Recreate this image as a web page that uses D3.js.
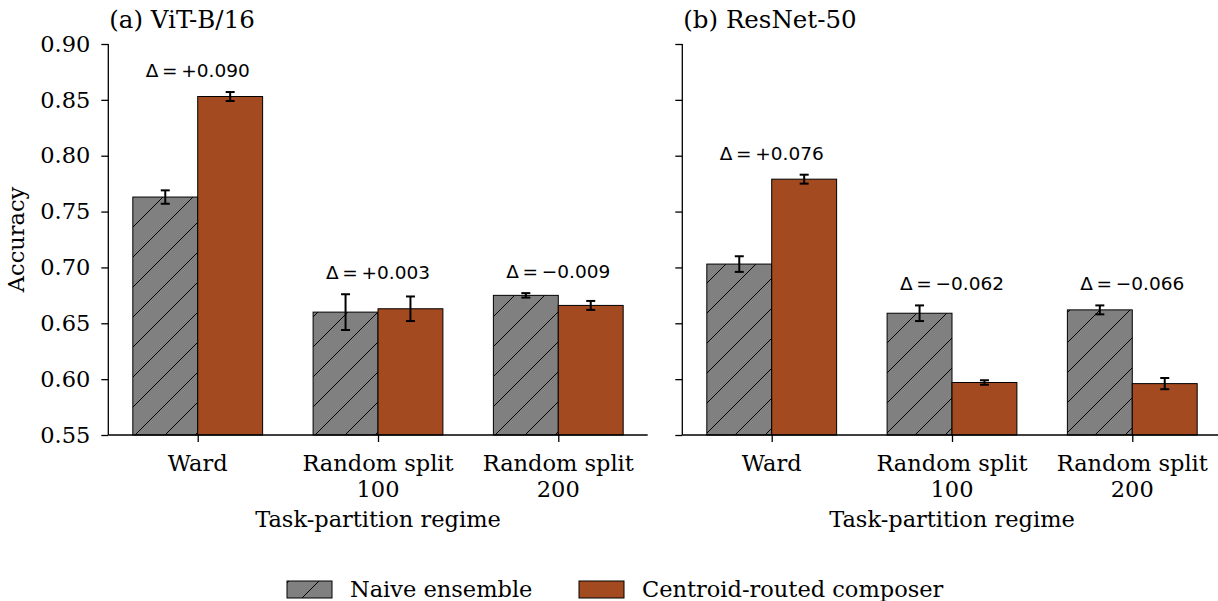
<!DOCTYPE html>
<html lang="en">
<head>
  <meta charset="UTF-8"/>
  <title>Naive ensemble vs centroid-routed composer</title>
  <script src="https://d3js.org/d3.v7.min.js"></script>
  <style>
    body { margin: 0; background: #fff; }
    text { font-family: "DejaVu Serif", serif; }
    .delta { font-family: "DejaVu Sans", sans-serif; }
  </style>
</head>
<body>
<script>

var categories = [["Ward"], ["Random split", "100"], ["Random split", "200"]];
var seriesNames = ["Naive ensemble", "Centroid-routed composer"];
var yTicks = [0.55, 0.60, 0.65, 0.70, 0.75, 0.80, 0.85, 0.90];

// (a) ViT-B/16
var vitNaive       = [0.763, 0.660, 0.675];
var vitNaiveErr    = [0.006, 0.016, 0.002];
var vitComposer    = [0.853, 0.663, 0.666];
var vitComposerErr = [0.004, 0.011, 0.004];
var vitDelta       = ["+0.090", "+0.003", "\u22120.009"];

// (b) ResNet-50
var resNaive       = [0.703, 0.659, 0.662];
var resNaiveErr    = [0.007, 0.007, 0.004];
var resComposer    = [0.779, 0.597, 0.596];
var resComposerErr = [0.004, 0.002, 0.005];
var resDelta       = ["+0.076", "\u22120.062", "\u22120.066"];

var w = 1218, h = 601;
var plotTop = 44, plotBottom = 435;
var barW = 0.36;
var colors = ["#808080", "#a44a20"];
var fs = 22.5;

var svg = d3.select("body").append("svg")
            .attr("width", w).attr("height", h);

var defs = svg.append("defs");
var pat = defs.append("pattern")
              .attr("id", "hatch")
              .attr("patternUnits", "userSpaceOnUse")
              .attr("width", 30).attr("height", 30);
pat.append("rect").attr("width", 30).attr("height", 30).attr("fill", colors[0]);
pat.append("path")
   .attr("d", "M-5,35 L35,-5 M-5,5 L5,-5 M25,35 L35,25")
   .attr("stroke", "#000").attr("stroke-width", 1);

var y = d3.scaleLinear().domain([0.55, 0.90]).range([plotBottom, plotTop]);

function panel(left, right, title, naive, naiveErr, comp, compErr, deltas, showLabels) {
  var x = d3.scaleLinear().domain([-0.496, 2.496]).range([left, right]);
  var g = svg.append("g");

  var series = [
    {vals: naive, errs: naiveErr, off: -barW / 2, fill: "url(#hatch)"},
    {vals: comp, errs: compErr, off: barW / 2, fill: colors[1]}
  ];

  series.forEach(function(s) {
    g.selectAll(null)
     .data(s.vals)
     .enter()
     .append("rect")
     .attr("x", function(d, i) { return x(i + s.off - barW / 2); })
     .attr("y", function(d) { return y(d); })
     .attr("width", x(barW) - x(0))
     .attr("height", function(d) { return y(0.55) - y(d); })
     .attr("fill", s.fill)
     .attr("stroke", "#000")
     .attr("stroke-width", 1);
  });

  var eg = g.append("g").attr("stroke", "#000").attr("stroke-width", 2);
  series.forEach(function(s) {
    s.vals.forEach(function(v, i) {
      var cx = x(i + s.off);
      var e = s.errs[i];
      eg.append("line").attr("x1", cx).attr("x2", cx)
        .attr("y1", y(v - e)).attr("y2", y(v + e));
      [v - e, v + e].forEach(function(c) {
        eg.append("line").attr("x1", cx - 4.5).attr("x2", cx + 4.5)
          .attr("y1", y(c)).attr("y2", y(c));
      });
    });
  });

  deltas.forEach(function(d, i) {
    var m = Math.max(naive[i] + naiveErr[i], comp[i] + compErr[i]);
    g.append("text")
     .attr("class", "delta")
     .attr("x", x(i))
     .attr("y", y(m) - 15)
     .attr("text-anchor", "middle")
     .attr("font-size", 18.5)
     .text("\u0394\u2009=\u2009" + d);
  });

  // y axis
  var yAxis = d3.axisLeft(y).tickValues(yTicks).tickSize(7).tickPadding(11)
                .tickFormat(showLabels ? d3.format(".2f") : "");
  var ya = g.append("g").attr("transform", "translate(" + left + ",0)").call(yAxis);
  ya.selectAll("text").attr("font-size", fs).attr("font-family", "DejaVu Serif").attr("fill", "#000");

  // x axis
  var xAxis = d3.axisBottom(x).tickValues([0, 1, 2]).tickSize(7).tickFormat("");
  var xa = g.append("g").attr("transform", "translate(0," + plotBottom + ")").call(xAxis);
  xa.select(".domain").attr("d", "M" + left + ",0H" + right);
  ya.select(".domain").attr("d", "M0," + plotBottom + "V" + plotTop);
  [ya, xa].forEach(function(a) {
    a.selectAll(".domain, line").attr("stroke", "#000").attr("stroke-width", 1.3);
  });

  categories.forEach(function(lines, i) {
    var t = g.append("text")
             .attr("x", x(i)).attr("y", 471)
             .attr("text-anchor", "middle")
             .attr("font-size", fs);
    lines.forEach(function(l, k) {
      t.append("tspan").attr("x", x(i)).attr("dy", k ? 26 : 0).text(l);
    });
  });

  g.append("text")
   .attr("x", (left + right) / 2).attr("y", 527)
   .attr("text-anchor", "middle")
   .attr("font-size", fs)
   .text("Task-partition regime");

  g.append("text")
   .attr("x", left + 1).attr("y", 28)
   .attr("font-size", 24.5)
   .text(title);
}

panel(108.3, 647.7, "(a) ViT-B/16", vitNaive, vitNaiveErr, vitComposer, vitComposerErr, vitDelta, true);
panel(682.3, 1221.7, "(b) ResNet-50", resNaive, resNaiveErr, resComposer, resComposerErr, resDelta, false);

svg.append("text")
   .attr("transform", "translate(24," + (plotTop + plotBottom) / 2 + ") rotate(-90)")
   .attr("text-anchor", "middle")
   .attr("font-size", fs)
   .text("Accuracy");

// legend
var legendX = [287, 579];
seriesNames.forEach(function(name, i) {
  svg.append("rect")
     .attr("x", legendX[i]).attr("y", 581)
     .attr("width", 45).attr("height", 17)
     .attr("fill", i === 0 ? "url(#hatch)" : colors[1])
     .attr("stroke", "#000").attr("stroke-width", 1);
  svg.append("text")
     .attr("x", legendX[i] + 63).attr("y", 597)
     .attr("font-size", fs)
     .text(name);
});

</script>
</body>
</html>
